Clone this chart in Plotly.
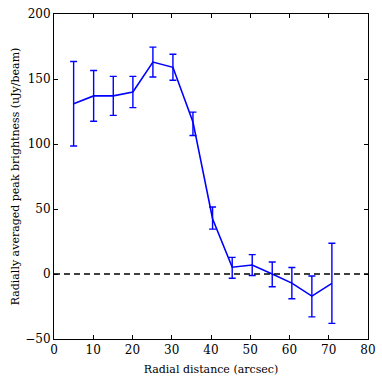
import plotly.graph_objects as go

# radial bins (arcsec) and radially averaged peak brightness (uJy/beam)
radius = [5.0, 10.1, 15.1, 20.1, 25.2, 30.3, 35.4, 40.4, 45.4, 50.5, 55.6, 60.6, 65.7, 70.8]
brightness = [131, 137, 137, 140, 163, 159, 117, 42.5, 5.2, 6.9, 0.0, -7.0, -17.0, -7.2]
err_plus = [32.5, 19.5, 15.0, 12.0, 11.5, 10.0, 7.5, 9.0, 7.6, 8.0, 9.2, 12.0, 15.5, 30.8]
err_minus = [32.5, 19.5, 15.0, 12.0, 11.5, 10.0, 10.5, 8.0, 8.5, 8.0, 9.8, 12.0, 16.0, 30.8]

font = dict(family="DejaVu Serif", size=11, color="black")

fig = go.Figure()
fig.add_trace(go.Scatter(
    x=radius, y=brightness, mode="lines",
    line=dict(color="#0000ff", width=1.6),
    error_y=dict(type="data", symmetric=False, array=err_plus, arrayminus=err_minus,
                 color="#0000ff", thickness=1.4, width=3.5),
    showlegend=False,
))

# zero level
fig.add_shape(type="line", xref="paper", yref="y", x0=0, x1=1, y0=0, y1=0,
              line=dict(color="black", width=1.3, dash="6px,4px"))

axis = dict(showgrid=False, zeroline=False, showline=True, linecolor="black", linewidth=1,
            mirror="ticks", ticks="inside", ticklen=4, tickcolor="black",
            tickfont=dict(font, size=12), automargin=False)

fig.update_layout(
    width=382, height=382,
    margin=dict(l=54, r=14, t=14, b=43),
    plot_bgcolor="white", paper_bgcolor="white",
    font=font,
    xaxis=dict(axis, range=[0, 80], dtick=10,
               title=dict(text="Radial distance (arcsec)", font=font, standoff=8)),
    yaxis=dict(axis, range=[-50, 200], dtick=50,
               title=dict(text="Radially averaged peak brightness (uJy/beam)", font=font, standoff=3)),
)

# the page body has a default 8px margin; drop it so the figure sits at the corner
fig.write_html("out.html", config={"displayModeBar": False},
               post_script="document.body.style.margin='0';")
